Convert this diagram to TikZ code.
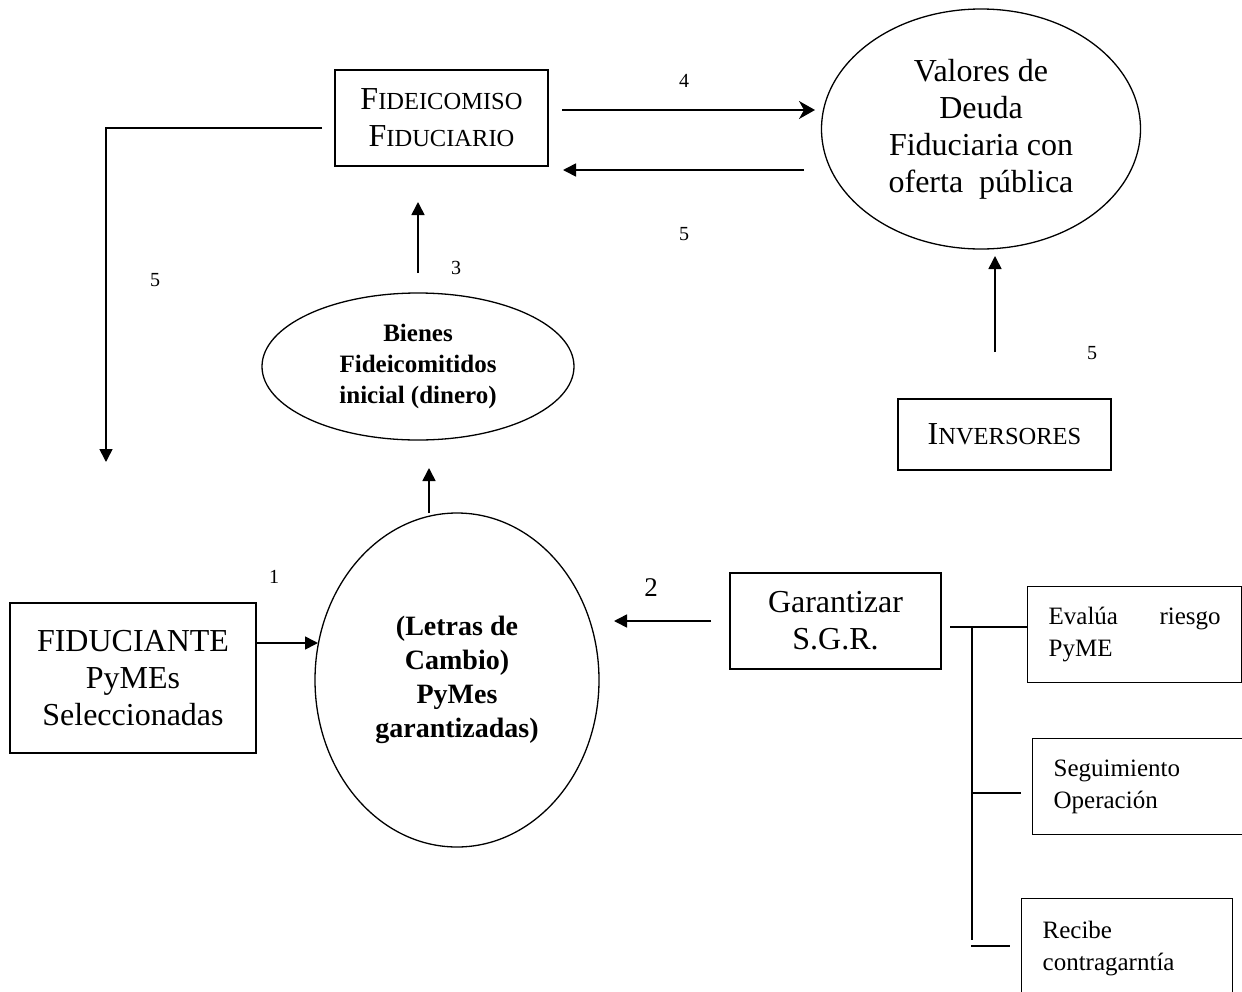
\documentclass[tikz,border=0pt]{standalone}
\usepackage{fontspec}
\setmainfont{Liberation Serif}
\usetikzlibrary{arrows.meta,shapes.geometric}
\newcommand\bigtxt{\fontsize{32}{37}\selectfont}
\newcommand\sctxt{\fontsize{24.5}{37}\selectfont}
\newcommand\midtxt{\fontsize{25}{32}\selectfont}
\newcommand\numtxt{\fontsize{20}{24}\selectfont}
\begin{document}
\begin{tikzpicture}[x=1pt,y=-1pt,
  box/.style={draw,line width=1.3pt,rectangle,inner sep=0pt,align=center},
  ell/.style={draw,line width=1.3pt,ellipse,inner sep=0pt,align=center},
  sub/.style={draw,line width=1.3pt,rectangle,inner xsep=21pt,inner ysep=0pt,align=left,anchor=north west},
  arr/.style={line width=1.6pt,-{Triangle[length=13pt,width=13pt]}},
  arrS/.style={line width=1.6pt,-{Stealth[length=16pt,width=18pt,inset=5pt]}},
  ln/.style={line width=1.5pt},
  num/.style={inner sep=0pt,font=\numtxt}]
\useasboundingbox (0,0) rectangle (1242,991);
% nodes
\node[box,minimum width=213pt,minimum height=96pt,font=\bigtxt] (fid) at (441.5,118)
  {F{\sctxt IDEICOMISO}\\F{\sctxt IDUCIARIO}};
\node[ell,minimum width=319pt,minimum height=240pt,font=\bigtxt] (val) at (981,129)
  {Valores de\\Deuda\\Fiduciaria con\\oferta\ \ pública};
\node[ell,minimum width=312pt,minimum height=147pt,font=\fontsize{25}{31}\selectfont\bfseries] (bien) at (418,366.5)
  {Bienes\\Fideicomitidos\\inicial (dinero)};
\node[box,minimum width=213pt,minimum height=71pt,font=\bigtxt] (inv) at (1004.5,434.5)
  {I{\sctxt NVERSORES}};
\node[box,minimum width=246pt,minimum height=150pt,font=\bigtxt] (fidu) at (133,678)
  {FIDUCIANTE\\PyMEs\\Seleccionadas};
\node[ell,minimum width=284pt,minimum height=334pt,font=\fontsize{28}{34}\selectfont\bfseries] (let) at (457,680)
  {(Letras de\\Cambio)\\PyMes\\garantizadas)};
\node[box,minimum width=211pt,minimum height=96pt,font=\bigtxt] (gar) at (835.5,621)
  {Garantizar\\S.G.R.};
\node[sub,text width=172pt,minimum height=96pt,font=\midtxt] (eva) at (1027,586)
  {Evalúa\hfill riesgo\\PyME};
\node[sub,text width=190pt,minimum height=96pt,font=\midtxt] (seg) at (1032,738)
  {Seguimiento\\Operación};
\node[sub,text width=169pt,minimum height=100pt,font=\midtxt] (rec) at (1021,898)
  {Recibe\\contragarntía};
% labels
\node[num] (n4) at (684,81) {4};
\node[num] (n5a) at (684,234) {5};
\node[num] (n3) at (456,268) {3};
\node[num] (n5b) at (155,280) {5};
\node[num] (n5c) at (1092,353) {5};
\node[num] (n1) at (274,577) {1};
\node[inner sep=0pt,font=\fontsize{27}{30}\selectfont] (n2) at (651,588) {2};
% coordinates for free ends
\coordinate (a4s) at (562,110);
\coordinate (a4e) at (815,110);
\coordinate (a5s) at (804,170);
\coordinate (a5e) at (563,170);
\coordinate (a3s) at (418,273);
\coordinate (a3e) at (418,202);
\coordinate (lls) at (322,128);
\coordinate (llc) at (106,128);
\coordinate (lle) at (106,462);
\coordinate (aus) at (429,513);
\coordinate (aue) at (429,468);
\coordinate (a1e) at (318,643);
\coordinate (a2s) at (711,621);
\coordinate (a2e) at (614,621);
\coordinate (ais) at (995,352);
\coordinate (aie) at (995,256);
\coordinate (t0) at (950,627);
\coordinate (tj) at (972,627);
\coordinate (tb) at (972,940);
\coordinate (tm) at (972,793);
\coordinate (tme) at (1021,793);
\coordinate (tls) at (971,946);
\coordinate (tle) at (1010,946);
% connectors
\draw[arrS] (a4s) -- (a4e);
\draw[arr] (a5s) -- (a5e);
\draw[arr] (a3s) -- (a3e);
\draw[arr] (lls) -- (llc) -- (lle);
\draw[arr] (aus) -- (aue);
\draw[arr] (fidu.east |- a1e) -- (a1e);
\draw[arr] (a2s) -- (a2e);
\draw[arr] (ais) -- (aie);
\draw[ln] (t0) -- (t0 -| eva.west);
\draw[ln] (tj) -- (tb);
\draw[ln] (tm) -- (tme);
\draw[ln] (tls) -- (tle);
\end{tikzpicture}
\end{document}
